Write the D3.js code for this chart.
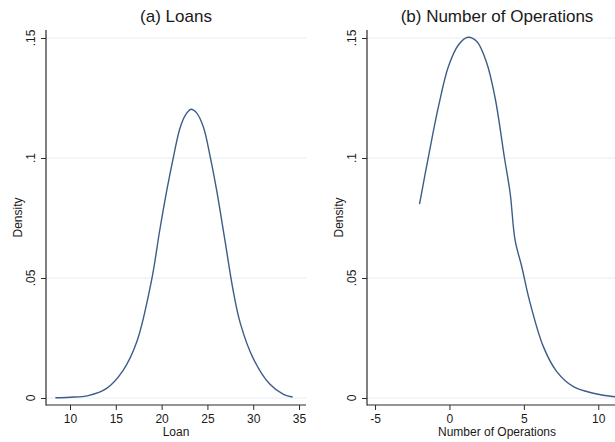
<!DOCTYPE html>
<html>
<head>
<meta charset="utf-8">
<script src="https://cdn.jsdelivr.net/npm/d3@7"></script>
<style>
  html, body { margin: 0; padding: 0; background: #fff; }
  svg { display: block; font-family: "Liberation Sans", Arial, sans-serif; }
</style>
</head>
<body>
<svg id="chart" width="615" height="442"></svg>
<script>
// ---- Data ----
const loanX = [8.4, 10, 12, 14, 15.8, 17.3, 18.9, 19.8, 20.6, 21.3, 22.0, 22.6, 23.2, 23.8, 24.55, 25.3, 26.0, 26.9, 27.8, 28.6, 30.0, 31.8, 33.3, 34.3];
const loanD = [0.0001, 0.0003, 0.001, 0.004, 0.0115, 0.0235, 0.049, 0.070, 0.0872, 0.1006, 0.1124, 0.1179, 0.1203, 0.1189, 0.113, 0.1006, 0.0867, 0.066, 0.045, 0.031, 0.0165, 0.0058, 0.0015, 0.0004];

const opsX = [-2.01, -1.41, -0.74, -0.07, 0.60, 1.24, 1.84, 2.51, 3.07, 3.70, 4.08, 4.41, 4.86, 5.37, 6.31, 7.21, 8.33, 9.67, 11.12, 12.0];
const opsD = [0.0808, 0.1006, 0.1214, 0.1381, 0.1471, 0.1503, 0.1485, 0.1395, 0.125, 0.0999, 0.0853, 0.0658, 0.0547, 0.0408, 0.0214, 0.011, 0.0047, 0.002, 0.0005, 0.0002];

const yTicks = [0, 0.05, 0.1, 0.15];
const yTickLabels = ["0", ".05", ".1", ".15"];
const loanTicks = [10, 15, 20, 25, 30, 35];
const opsTicks = [-5, 0, 5, 10];

const panels = [
  { title: "(a) Loans", xLabel: "Loan", xs: loanX, ys: loanD, ticks: loanTicks,
    left: 46, right: 306, domain: [7.38, 35.76] },
  { title: "(b) Number of Operations", xLabel: "Number of Operations", xs: opsX, ys: opsD, ticks: opsTicks,
    left: 367, right: 627, domain: [-5.54, 11.93] }
];

const svg = d3.select("#chart");
const plotTop = 30, axisY = 405, zeroY = 398;
const y = d3.scaleLinear().domain([0, 0.15]).range([zeroY, 38]);

const gridColor = "#e6eef1";
const axisColor = "#2b2b2b";
const lineColor = "#3d5d87";
const textColor = "#1a1a1a";

panels.forEach(p => {
  const x = d3.scaleLinear().domain(p.domain).range([p.left, p.right]);
  const g = svg.append("g");

  // gridlines
  g.selectAll(".grid").data(yTicks).enter().append("line")
    .attr("x1", p.left).attr("x2", p.right)
    .attr("y1", d => y(d)).attr("y2", d => y(d))
    .attr("stroke", gridColor).attr("stroke-width", 1.2);

  // y axis
  const yAxis = d3.axisLeft(y).tickValues(yTicks).tickSize(5).tickFormat("");
  const ya = g.append("g").attr("transform", `translate(${p.left},0)`).call(yAxis);
  ya.select(".domain").remove();
  ya.selectAll("line").attr("stroke", axisColor);
  g.append("line").attr("x1", p.left).attr("x2", p.left).attr("y1", plotTop).attr("y2", axisY + 0.5)
    .attr("stroke", axisColor).attr("stroke-width", 1.2);

  // y tick labels (rotated)
  g.selectAll(".ylab").data(yTicks).enter().append("text")
    .attr("transform", (d) => `translate(${p.left - 11},${y(d)}) rotate(-90)`)
    .attr("text-anchor", "middle").attr("font-size", 12).attr("fill", textColor)
    .text((d, i) => yTickLabels[i]);

  // y axis title
  g.append("text")
    .attr("transform", `translate(${p.left - 24.5},${(plotTop + axisY) / 2}) rotate(-90)`)
    .attr("text-anchor", "middle").attr("font-size", 12).attr("fill", textColor)
    .text("Density");

  // x axis
  const xAxis = d3.axisBottom(x).tickValues(p.ticks).tickSize(5).tickPadding(4).tickFormat(d => String(d));
  const xa = g.append("g").attr("transform", `translate(0,${axisY})`).call(xAxis);
  xa.select(".domain").remove();
  xa.selectAll("line").attr("stroke", axisColor);
  xa.selectAll("text").attr("font-size", 12).attr("fill", textColor)
    .attr("font-family", "Liberation Sans, Arial, sans-serif");
  g.append("line").attr("x1", p.left).attr("x2", p.right).attr("y1", axisY).attr("y2", axisY)
    .attr("stroke", axisColor).attr("stroke-width", 1.2);

  // x axis title
  g.append("text").attr("x", (p.left + p.right) / 2).attr("y", 435.5)
    .attr("text-anchor", "middle").attr("font-size", 12).attr("fill", textColor)
    .text(p.xLabel);

  // title
  g.append("text").attr("x", (p.left + p.right) / 2).attr("y", 22)
    .attr("text-anchor", "middle").attr("font-size", 17).attr("fill", textColor)
    .text(p.title);

  // curve
  const pts = p.xs.map((v, i) => [v, p.ys[i]]);
  const line = d3.line().x(d => x(d[0])).y(d => y(d[1])).curve(d3.curveCatmullRom.alpha(0.5));
  g.append("path").datum(pts).attr("d", line)
    .attr("fill", "none").attr("stroke", lineColor).attr("stroke-width", 1.4);
});
</script>
</body>
</html>
